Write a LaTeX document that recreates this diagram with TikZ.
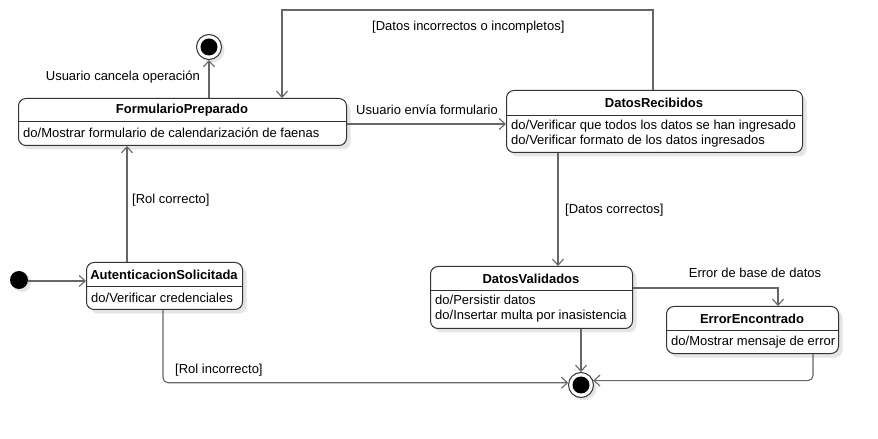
\documentclass[tikz,border=0pt]{standalone}
\usepackage{fontspec}
\setmainfont{Liberation Sans}
\usetikzlibrary{arrows.meta,shadows,calc}
\begin{document}
\begin{tikzpicture}[x=1bp,y=-1bp,font=\fontsize{13bp}{15bp}\selectfont,
  statebox/.style={draw=black!80, line width=1bp, rounded corners=7.5bp, fill=white,
    drop shadow={shadow xshift=4bp,shadow yshift=-4bp,fill=black!10,opacity=1},
    anchor=north west, inner sep=0},
  titletxt/.style={font=\fontsize{13bp}{15bp}\selectfont\bfseries, anchor=center, inner sep=0},
  bodytxt/.style={anchor=west, inner sep=0, align=left},
  sepline/.style={draw=black!80, line width=1bp},
  conn/.style={draw=black!60, line width=1.1bp, -{Straight Barb[length=6bp,width=11bp,line width=1.1bp]}},
  lbl/.style={inner sep=0},
  initstate/.style={circle, fill=black, minimum size=18bp, inner sep=0,
    drop shadow={shadow xshift=3bp,shadow yshift=-3bp,fill=black!10,opacity=1}},
  finalstate/.style={circle, draw=black!80, line width=1bp, fill=white, minimum size=25bp, inner sep=0,
    drop shadow={shadow xshift=3bp,shadow yshift=-3bp,fill=black!10,opacity=1},
    path picture={\fill[black] (path picture bounding box.center) circle (8.5bp);}}
]
\useasboundingbox (0,0) rectangle (878,439);

% states
\node[statebox, minimum width=328bp, minimum height=47bp] (fp) at (18,98) {};
\draw[sepline] (fp.west |- 0,122) -- (fp.east |- 0,122);
\node[titletxt] (fpt) at (182,110) {FormularioPreparado};
\node[bodytxt] (fpb) at (23,133) {do/Mostrar formulario de calendarización de faenas};

\node[statebox, minimum width=296bp, minimum height=62bp] (dr) at (506,90) {};
\draw[sepline] (dr.west |- 0,116) -- (dr.east |- 0,116);
\node[titletxt] (drt) at (654,103) {DatosRecibidos};
\node[bodytxt] (drb) at (511,133.5) {do/Verificar que todos los datos se han ingresado\\do/Verificar formato de los datos ingresados};

\node[statebox, minimum width=156bp, minimum height=47bp] (as) at (86,262) {};
\draw[sepline] (as.west |- 0,287) -- (as.east |- 0,287);
\node[titletxt] (ast) at (164,274.5) {AutenticacionSolicitada};
\node[bodytxt] (asb) at (91,298) {do/Verificar credenciales};

\node[statebox, minimum width=202bp, minimum height=62bp] (dv) at (430,266) {};
\draw[sepline] (dv.west |- 0,291) -- (dv.east |- 0,291);
\node[titletxt] (dvt) at (531,278.5) {DatosValidados};
\node[bodytxt] (dvb) at (435,309) {do/Persistir datos\\do/Insertar multa por inasistencia};

\node[statebox, minimum width=172bp, minimum height=47bp] (ee) at (666,306) {};
\draw[sepline] (ee.west |- 0,331) -- (ee.east |- 0,331);
\node[titletxt] (eet) at (752,318.5) {ErrorEncontrado};
\node[bodytxt] (eeb) at (671,342) {do/Mostrar mensaje de error};

% pseudo states
\node[initstate] (init) at (19,280) {};
\node[finalstate] (ff1) at (209,47) {};
\node[finalstate] (ff2) at (581,385) {};

% transitions
\draw[conn] (init.east |- 0,281) -- (as.west |- 0,281);
\draw[conn] (as.north -| 127,0) -- (fp.south -| 127,0);
\draw[conn] (fp.north -| 209,0) -- (ff1.south);
\draw[conn] (fp.east |- 0,124) -- (dr.west |- 0,124);
\draw[conn] (dr.north -| 653,0) |- (282,10) -- (fp.north -| 282,0);
\draw[conn] (dr.south -| 558,0) -- (dv.north -| 558,0);
\draw[conn] (dv.east |- 0,288) -| (ee.north -| 778,0);
\draw[conn] (dv.south -| 581,0) -- (ff2.north);
\draw[conn, rounded corners=5bp] (ee.south -| 813,0) |- (ff2.20);
\draw[conn, rounded corners=5bp] (as.south -| 163,0) |- (ff2.170);

% labels
\node[lbl, anchor=east] (l1) at (200,77) {Usuario cancela operación};
\node[lbl, anchor=west] (l2) at (372,27) {[Datos incorrectos o incompletos]};
\node[lbl, anchor=west] (l3) at (356,110) {Usuario envía formulario};
\node[lbl, anchor=west] (l4) at (565,210) {[Datos correctos]};
\node[lbl, anchor=west] (l5) at (132,200) {[Rol correcto]};
\node[lbl, anchor=west] (l6) at (175,370) {[Rol incorrecto]};
\node[lbl, anchor=center] (l7) at (755,273) {Error de base de datos};
\end{tikzpicture}
\end{document}
